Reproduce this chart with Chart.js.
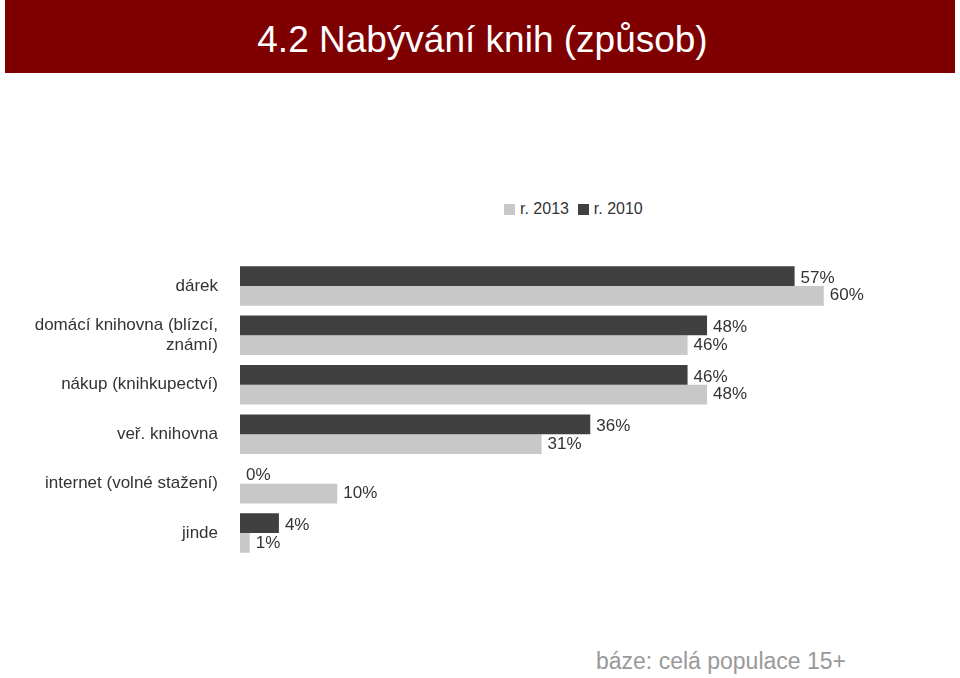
<!DOCTYPE html>
<html><head><meta charset="utf-8">
<script src="https://cdn.jsdelivr.net/npm/chart.js@4"></script>
<style>
body{margin:0;width:960px;height:678px;background:#fff;font-family:"Liberation Sans",Arial,sans-serif;position:relative;overflow:hidden}
#title{position:absolute;left:5px;top:0;width:950px;height:73px;background:#7f0000;color:#fff;font-size:37px;line-height:80px;text-align:center;padding-left:5px;box-sizing:border-box}
#legend{position:absolute;left:504px;top:200px;font-size:16px;color:#333}
#legend span.sw{display:inline-block;width:11px;height:11px;margin-right:5px;vertical-align:-1px}
#wrap{position:absolute;left:0;top:237px;width:960px;height:345px}
#foot{position:absolute;left:596px;top:648px;font-size:23px;color:#999}
</style></head><body>
<div id="title">4.2 Nabývání knih (způsob)</div>
<div id="legend"><span class="sw" style="background:#c8c8c8"></span>r. 2013 &nbsp;<span class="sw" style="background:#404040"></span>r. 2010</div>
<div id="wrap"><canvas id="c"></canvas></div>
<div id="foot">báze: celá populace 15+</div>
<script>
const categories = ["dárek", ["domácí knihovna (blízcí,", "známí)"], "nákup (knihkupectví)", "veř. knihovna", "internet (volné stažení)", "jinde"];
const values2010 = [57, 48, 46, 36, 0, 4];
const values2013 = [60, 46, 48, 31, 10, 1];

const labelPlugin = {
  id: "barLabels",
  afterDatasetsDraw(chart) {
    const ctx = chart.ctx;
    ctx.save();
    ctx.font = '17px "Liberation Sans", Arial, sans-serif';
    ctx.fillStyle = "#333";
    ctx.textBaseline = "middle";
    chart.data.datasets.forEach((ds, di) => {
      chart.getDatasetMeta(di).data.forEach((bar, i) => {
        const dy = di === 0 ? 2 : 0;
        ctx.fillText(ds.data[i] + "%", bar.x + 6, bar.y + dy);
      });
    });
    ctx.restore();
  }
};

new Chart(document.getElementById("c"), {
  type: "bar",
  data: {
    labels: categories,
    datasets: [
      { label: "r. 2010", data: values2010, backgroundColor: "#404040", categoryPercentage: 0.8, barPercentage: 1 },
      { label: "r. 2013", data: values2013, backgroundColor: "#c8c8c8", categoryPercentage: 0.8, barPercentage: 1 }
    ]
  },
  options: {
    indexAxis: "y",
    responsive: true,
    maintainAspectRatio: false,
    animation: false,
    layout: { padding: { left: 0, right: 0, top: 0, bottom: 0 } },
    plugins: { legend: { display: false }, tooltip: { enabled: false } },
    scales: {
      x: { display: false, min: 0, max: 74 },
      y: {
        grid: { display: false },
        border: { display: false },
        ticks: { color: "#333", font: { family: "Liberation Sans", size: 17 }, padding: 14 },
        afterFit(s) { s.width = 240; }
      }
    }
  },
  plugins: [labelPlugin]
});
</script>
</body></html>
